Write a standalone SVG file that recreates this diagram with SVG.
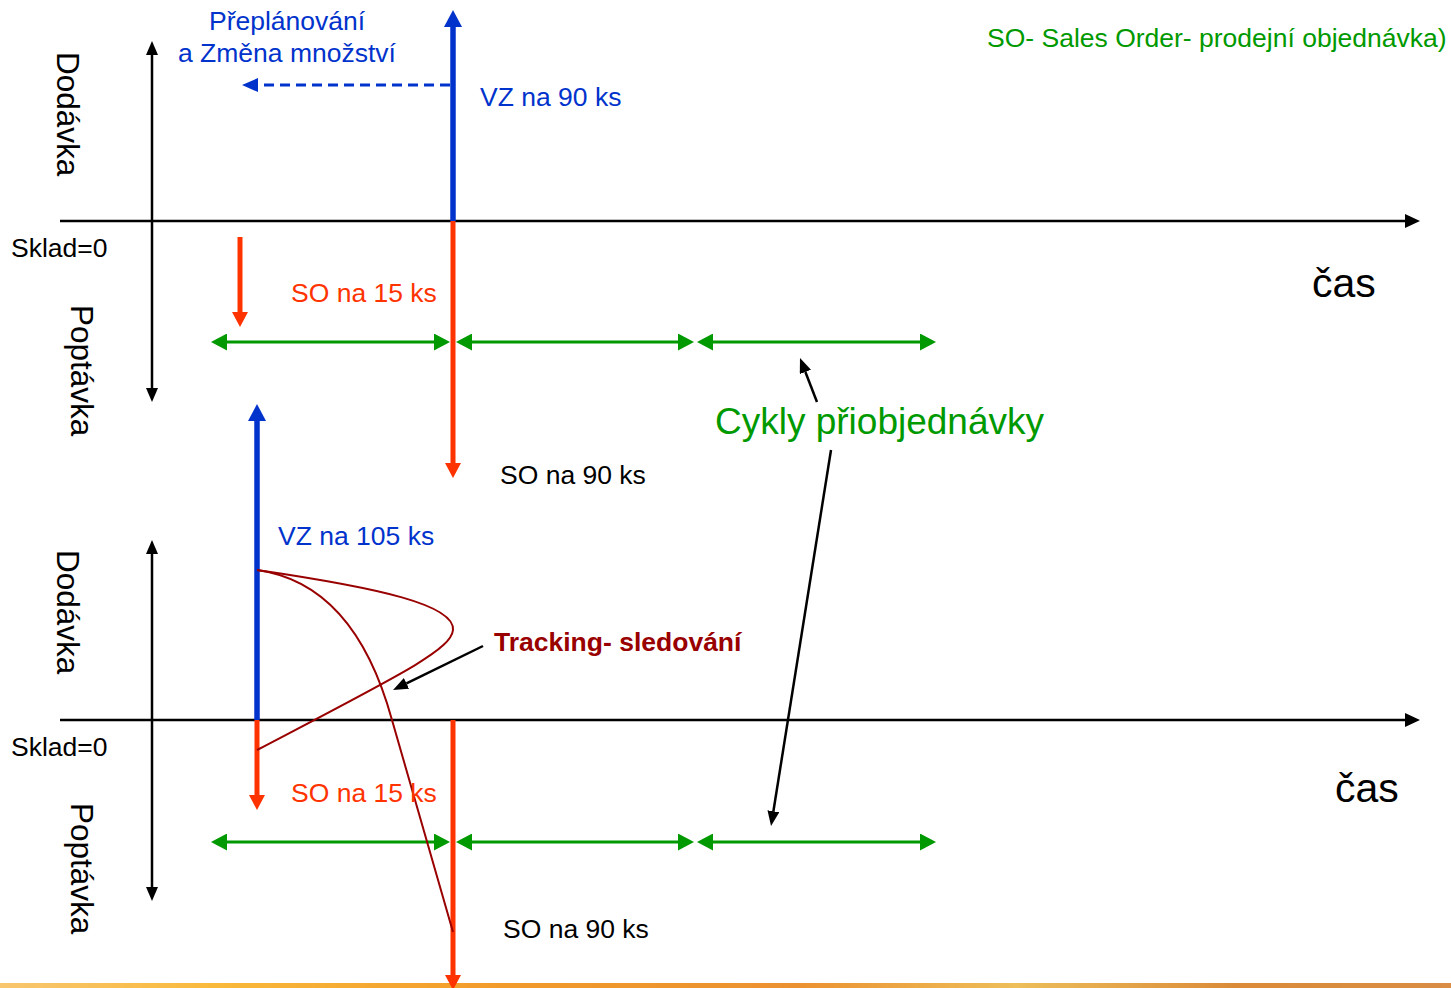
<svg xmlns="http://www.w3.org/2000/svg" width="1451" height="988" viewBox="0 0 1451 988">
<style>
text{font-family:"Liberation Sans",Arial,sans-serif;font-size:26.5px}
.blk{fill:#000}.blu{fill:#0033CC}.red{fill:#FF3300}.grn{fill:#009900}
.ax{stroke:#000;stroke-width:2.5;fill:none}
.bl{stroke:#0033CC;stroke-width:5.5;fill:none}
.rd{stroke:#FF3300;stroke-width:5;fill:none}
.gr{stroke:#009900;stroke-width:3;fill:none}
.tr{stroke:#990000;stroke-width:2;fill:none}
.ptr{stroke:#000;stroke-width:2.5;fill:none}
</style>
<defs>
<marker id="mAx" markerUnits="userSpaceOnUse" markerWidth="16" markerHeight="14" refX="0" refY="7" orient="auto-start-reverse"><path d="M0,0 L15,7 L0,14 z" fill="#000"/></marker>
<marker id="mAxV" markerUnits="userSpaceOnUse" markerWidth="15" markerHeight="12" refX="0" refY="6" orient="auto-start-reverse"><path d="M0,0 L14,6 L0,12 z" fill="#000"/></marker>
<marker id="mBlue" markerUnits="userSpaceOnUse" markerWidth="18" markerHeight="18" refX="0" refY="9" orient="auto"><path d="M0,0 L17,9 L0,18 z" fill="#0033CC"/></marker>
<marker id="mBlueS" markerUnits="userSpaceOnUse" markerWidth="17" markerHeight="14" refX="0" refY="7" orient="auto"><path d="M0,0 L16,7 L0,14 z" fill="#0033CC"/></marker>
<marker id="mRed" markerUnits="userSpaceOnUse" markerWidth="16" markerHeight="16" refX="0" refY="8" orient="auto"><path d="M0,0 L15,8 L0,16 z" fill="#FF3300"/></marker>
<marker id="mGrn" markerUnits="userSpaceOnUse" markerWidth="17" markerHeight="17" refX="0" refY="8.5" orient="auto-start-reverse"><path d="M0,0 L16,8.5 L0,17 z" fill="#009900"/></marker>
<marker id="mPtr" markerUnits="userSpaceOnUse" markerWidth="16" markerHeight="12" refX="0" refY="6" orient="auto"><path d="M0,0 L15,6 L0,12 z" fill="#000"/></marker>
<linearGradient id="bar" x1="0" y1="0" x2="1" y2="0">
<stop offset="0" stop-color="#F8C670"/><stop offset="0.15" stop-color="#F9B93A"/><stop offset="0.35" stop-color="#F29A2A"/><stop offset="0.55" stop-color="#EC9130"/><stop offset="0.7" stop-color="#EDBE5A"/><stop offset="0.85" stop-color="#DB8B38"/><stop offset="1" stop-color="#D98D45"/>
</linearGradient>
</defs>
<rect id="bottom-bar" x="0" y="983" width="1451" height="5" fill="url(#bar)"/>
<g id="connectors">
<line class="ax" x1="60" y1="221" x2="1405" y2="221" marker-end="url(#mAx)"/>
<line class="ax" x1="60" y1="720" x2="1405" y2="720" marker-end="url(#mAx)"/>
<line class="ax" x1="152" y1="55" x2="152" y2="388" marker-start="url(#mAxV)" marker-end="url(#mAxV)"/>
<line class="ax" x1="152" y1="554" x2="152" y2="887" marker-start="url(#mAxV)" marker-end="url(#mAxV)"/>
<line class="bl" x1="453" y1="221" x2="453" y2="27" marker-end="url(#mBlue)"/>
<line class="rd" x1="453" y1="221" x2="453" y2="463" marker-end="url(#mRed)"/>
<line stroke="#0033CC" stroke-width="3" stroke-dasharray="10 6" x1="450" y1="85" x2="258" y2="85" marker-end="url(#mBlueS)"/>
<line class="rd" x1="240" y1="237" x2="240" y2="312" marker-end="url(#mRed)"/>
<line class="gr" x1="227" y1="342" x2="434" y2="342" marker-start="url(#mGrn)" marker-end="url(#mGrn)"/>
<line class="gr" x1="472" y1="342" x2="678" y2="342" marker-start="url(#mGrn)" marker-end="url(#mGrn)"/>
<line class="gr" x1="713" y1="342" x2="920" y2="342" marker-start="url(#mGrn)" marker-end="url(#mGrn)"/>
<line class="bl" x1="257" y1="720" x2="257" y2="421" marker-end="url(#mBlue)"/>
<line class="rd" x1="257" y1="720" x2="257" y2="795" marker-end="url(#mRed)"/>
<line class="rd" x1="453" y1="720" x2="453" y2="975" marker-end="url(#mRed)"/>
<line class="gr" x1="227" y1="842" x2="434" y2="842" marker-start="url(#mGrn)" marker-end="url(#mGrn)"/>
<line class="gr" x1="472" y1="842" x2="678" y2="842" marker-start="url(#mGrn)" marker-end="url(#mGrn)"/>
<line class="gr" x1="713" y1="842" x2="920" y2="842" marker-start="url(#mGrn)" marker-end="url(#mGrn)"/>
<path class="tr" d="M257,570 C380,588 455,605 453,630 C451,650 400,675 257,750"/>
<path class="tr" d="M257,570 C330,580 370,640 392,720 L453,932"/>
<line class="ptr" x1="483" y1="646" x2="406.5" y2="683.4" marker-end="url(#mPtr)"/>
<line class="ptr" x1="817" y1="402" x2="805.4" y2="372" marker-end="url(#mPtr)"/>
<line class="ptr" x1="831" y1="450" x2="773.4" y2="811.2" marker-end="url(#mPtr)"/>
</g>
<g id="label-replan"><text class="blu" x="209" y="30">Přeplánování</text><text class="blu" x="178" y="62">a Změna množství</text></g>
<g id="label-vz90"><text class="blu" x="480" y="106">VZ na 90 ks</text></g>
<g id="label-legend"><text class="grn" x="987" y="47">SO- Sales Order- prodejní objednávka)</text></g>
<g id="label-dodavka1"><text class="blk" style="font-size:31.5px" transform="translate(57,52) rotate(90)">Dodávka</text></g>
<g id="label-poptavka1"><text class="blk" style="font-size:31.5px" transform="translate(71,305) rotate(90)">Poptávka</text></g>
<g id="label-sklad1"><text class="blk" x="11" y="257">Sklad=0</text></g>
<g id="label-so15a"><text class="red" x="291" y="302">SO na 15 ks</text></g>
<g id="label-so90a"><text class="blk" x="500" y="484">SO na 90 ks</text></g>
<g id="label-cas1"><text class="blk" style="font-size:41px" x="1312" y="297">čas</text></g>
<g id="label-cykly"><text class="grn" style="font-size:37px" x="715" y="434">Cykly přiobjednávky</text></g>
<g id="label-vz105"><text class="blu" x="278" y="545">VZ na 105 ks</text></g>
<g id="label-tracking"><text style="font-size:26.5px;font-weight:bold;fill:#990000" x="494" y="651">Tracking- sledování</text></g>
<g id="label-dodavka2"><text class="blk" style="font-size:31.5px" transform="translate(57,550) rotate(90)">Dodávka</text></g>
<g id="label-poptavka2"><text class="blk" style="font-size:31.5px" transform="translate(71,803) rotate(90)">Poptávka</text></g>
<g id="label-sklad2"><text class="blk" x="11" y="756">Sklad=0</text></g>
<g id="label-so15b"><text class="red" x="291" y="802">SO na 15 ks</text></g>
<g id="label-so90b"><text class="blk" x="503" y="938">SO na 90 ks</text></g>
<g id="label-cas2"><text class="blk" style="font-size:41px" x="1335" y="802">čas</text></g>
</svg>
